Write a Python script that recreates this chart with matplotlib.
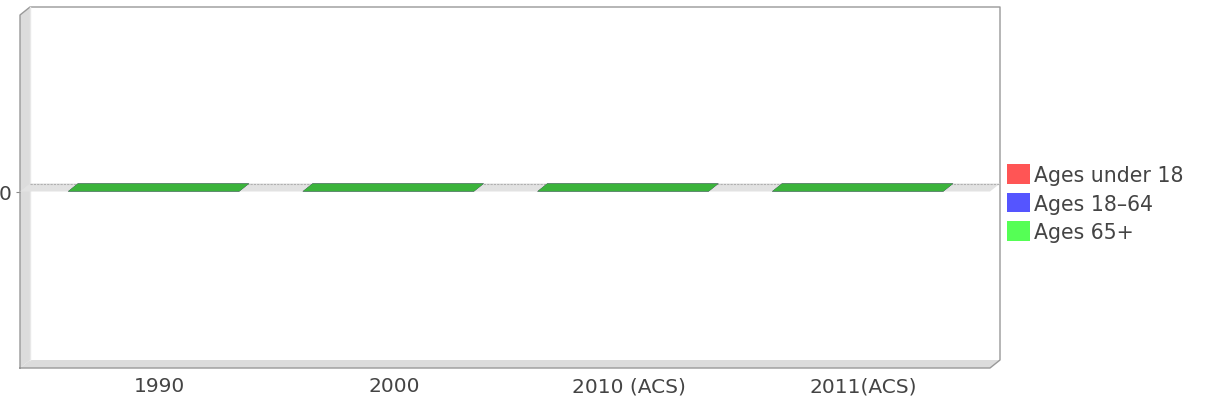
import matplotlib.pyplot as plt
import matplotlib.transforms as mtransforms
import numpy as np
from matplotlib.patches import Polygon, Patch
from matplotlib.colors import to_rgb

categories = ['1990', '2000', '2010 (ACS)', '2011(ACS)']
ages_under_18 = [0, 0, 0, 0]
ages_18_64 = [0, 0, 0, 0]
ages_65_plus = [0, 0, 0, 0]

series = [('Ages under 18', ages_under_18, '#ff5555'),
          ('Ages 18-64', ages_18_64, '#5555ff'),
          ('Ages 65+', ages_65_plus, '#55ff55')]

W, H = 1205, 402
fig = plt.figure(figsize=(W / 100, H / 100), dpi=100)
# front plane of the 3d plot, in pixels
left, right, top, bottom = 20, 990, 16, 369
ax = fig.add_axes([left / W, (H - bottom) / H, (right - left) / W, (bottom - top) / H])

xmin, xmax = -0.569, 3.564
ymin, ymax = -1.0, 1.0
ax.set_xlim(xmin, xmax)
ax.set_ylim(ymin, ymax)

# depth of the 3d effect, converted to data units
dx = 10 / ((right - left) / (xmax - xmin))
dy = 8 / ((bottom - top) / (ymax - ymin))

for s in ax.spines.values():
    s.set_visible(False)
ax.patch.set_visible(False)

wall = '#dcdcdc'
edge = '#999999'
# back wall
ax.add_patch(Polygon([(xmin + dx, ymin + dy), (xmax + dx, ymin + dy), (xmax + dx, ymax + dy),
                      (xmin + dx, ymax + dy)], closed=True, facecolor='white', edgecolor='none',
                     clip_on=False, zorder=0))
# left wall
ax.add_patch(Polygon([(xmin, ymin), (xmin + dx, ymin + dy), (xmin + dx, ymax + dy), (xmin, ymax)],
                     closed=True, facecolor=wall, edgecolor='none', clip_on=False, zorder=1))
# floor
ax.add_patch(Polygon([(xmin, ymin), (xmax, ymin), (xmax + dx, ymin + dy), (xmin + dx, ymin + dy)],
                     closed=True, facecolor=wall, edgecolor='none', clip_on=False, zorder=1))
# outline
ax.plot([xmin, xmin, xmin + dx, xmax + dx, xmax + dx, xmax, xmin],
        [ymin, ymax, ymax + dy, ymax + dy, ymin + dy, ymin, ymin],
        color=edge, lw=1, clip_on=False, zorder=2)
ax.plot([xmin + dx, xmin + dx], [ymin + dy, ymax + dy], color='#e8e8e8', lw=1, clip_on=False, zorder=2)

# zero band
ax.add_patch(Polygon([(xmin, 0), (xmax, 0), (xmax + dx, dy), (xmin + dx, dy)], closed=True,
                     facecolor='#e2e2e2', edgecolor='none', clip_on=False, zorder=2))
ax.plot([xmin + dx, xmax + dx], [dy, dy], color='#b0b0b0', lw=0.8, ls=(0, (2, 1)), clip_on=False, zorder=2)

x = np.arange(len(categories))
width = 0.73
base = np.zeros(len(categories))
for name, vals, col in series:
    vals = np.array(vals, dtype=float)
    ax.bar(x, vals, width, bottom=base, color=col, zorder=3)
    base = base + vals
    shade = tuple(c * 0.7 for c in to_rgb(col))
    for xi, t in zip(x, base):
        ax.add_patch(Polygon([(xi - width / 2, t), (xi + width / 2, t), (xi + width / 2 + dx, t + dy),
                              (xi - width / 2 + dx, t + dy)], closed=True, facecolor=shade,
                             edgecolor='none', clip_on=False, zorder=4))

ax.set_xticks(x)
ax.set_xticklabels(categories, fontsize=14.5, color='#444444')
ax.tick_params(axis='x', length=0, pad=6)
ax.set_yticks([0])
ax.set_yticklabels(['0'], fontsize=14.5, color='#444444')
ax.tick_params(axis='y', length=3, width=0.8, color='#888888', pad=3)

# labels sit under the middle of the 3d bars
off = mtransforms.ScaledTranslation(6 / 100, 0, fig.dpi_scale_trans)
for lab in ax.get_xticklabels():
    lab.set_transform(lab.get_transform() + off)

handles = [Patch(facecolor=col, edgecolor='none') for _, _, col in series]
fig.legend(handles, [name.replace('-', '\u2013') for name, _, _ in series], loc='upper left',
           bbox_to_anchor=(1007 / W, 1 - 165 / H), frameon=False, fontsize=14.8,
           handlelength=1.1, handleheight=1.1, handletextpad=0.22, labelspacing=0.38,
           borderpad=0, borderaxespad=0, labelcolor='#444444')

fig.savefig('out.png', dpi=100)
